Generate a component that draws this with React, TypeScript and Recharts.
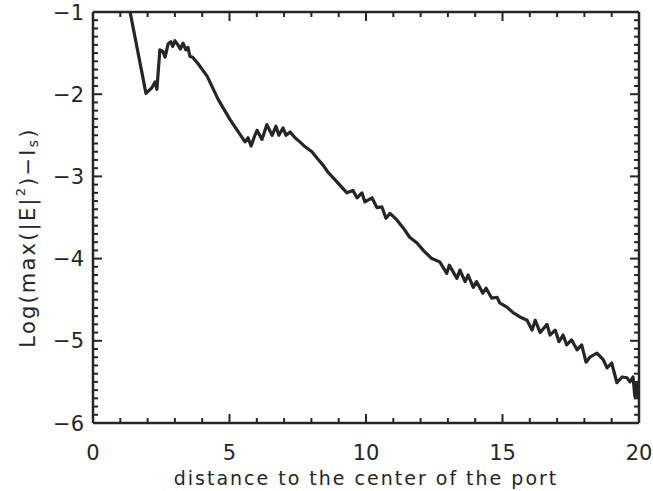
import React from 'react';
import { LineChart, Line, XAxis, YAxis, Label } from 'recharts';

// distance to the port centre (x) and log value (y)
const distance = [
  1.2, 1.94, 2.16, 2.27, 2.34, 2.45, 2.56, 2.64, 2.75, 2.85, 2.92, 3.0, 3.11, 3.2, 3.3, 3.4, 3.48, 3.55, 3.65,
  3.85, 4.18, 4.58, 5.02,
  5.57, 5.68, 5.79, 5.93, 6.01, 6.19, 6.37, 6.56, 6.7, 6.81, 6.96, 7.07, 7.22, 7.4, 7.58, 7.77, 8.02, 8.21,
  8.42, 8.61, 8.86, 9.3, 9.52, 9.67, 9.85, 9.96, 10.22, 10.4,
  10.58, 10.73, 10.88, 11.13, 11.37, 11.6, 11.87, 12.1, 12.41, 12.7, 12.96, 13.05, 13.33, 13.44, 13.63, 13.74,
  13.93, 14.05, 14.28, 14.4, 14.6, 14.8, 14.9, 15.16, 15.4, 15.64, 15.9, 16.08, 16.2, 16.38, 16.63, 16.74,
  16.93, 17.07, 17.22, 17.35, 17.53, 17.73, 17.9, 18.06, 18.2, 18.46, 18.69, 18.83, 19.0, 19.19, 19.38, 19.56,
  19.67, 19.78, 19.85, 19.93, 19.98,
];
const logValue = [
  -0.73, -1.99, -1.92, -1.85, -1.94, -1.46, -1.48, -1.55, -1.39, -1.36, -1.42, -1.35, -1.4, -1.45, -1.38,
  -1.46, -1.43, -1.54, -1.55, -1.63, -1.78, -2.06, -2.31,
  -2.58, -2.53, -2.63, -2.5, -2.44, -2.55, -2.37, -2.5, -2.39, -2.5, -2.41, -2.5, -2.46, -2.53, -2.58, -2.64,
  -2.7, -2.78, -2.86, -2.95, -3.04, -3.2, -3.17, -3.26, -3.2, -3.31, -3.26, -3.38,
  -3.37, -3.51, -3.45, -3.53, -3.63, -3.74, -3.81, -3.9, -4.0, -4.04, -4.18, -4.08, -4.24, -4.14, -4.28, -4.2,
  -4.35, -4.28, -4.42, -4.36, -4.48, -4.47, -4.54, -4.59, -4.66, -4.71, -4.75, -4.87, -4.75, -4.9, -4.8, -4.93,
  -4.87, -5.01, -4.93, -5.05, -4.99, -5.11, -5.05, -5.26, -5.2, -5.15, -5.23, -5.33, -5.27, -5.51, -5.44, -5.45,
  -5.5, -5.44, -5.68, -5.51, -5.7,
];

const xMajor = [0, 5, 10, 15, 20];
const yMajor = [-6, -5, -4, -3, -2, -1];

const data = distance.map((x, i) => ({ x, y: logValue[i] }));

// minor ticks: every 1 on x, every 0.1 on y
const xTicks = Array.from({ length: 21 }, (_, i) => i);
const yTicks = Array.from({ length: 51 }, (_, i) => Math.round((yMajor[0] + i * 0.1) * 10) / 10);

const INK = '#262626';
const FONT = '"DejaVu Sans", sans-serif';

const fmt = (v: number) => (v < 0 ? `\u2212${Math.abs(v)}` : `${v}`);

const BottomTick = ({ x, y, payload }: any) => {
  const major = xMajor.includes(payload.value);
  return (
    <g>
      <line x1={x} x2={x} y1={y} y2={y - (major ? 9 : 5)} stroke={INK} strokeWidth={2} />
      {major && (
        <text x={x} y={y + 37} textAnchor="middle" fontSize={21} fill={INK} fontFamily={FONT}>
          {payload.value}
        </text>
      )}
    </g>
  );
};

const TopTick = ({ x, y, payload }: any) => {
  const major = xMajor.includes(payload.value);
  return <line x1={x} x2={x} y1={y} y2={y + (major ? 9 : 5)} stroke={INK} strokeWidth={2} />;
};

const LeftTick = ({ x, y, payload }: any) => {
  const major = yMajor.includes(payload.value);
  return (
    <g>
      <line x1={x} x2={x + (major ? 9 : 5)} y1={y} y2={y} stroke={INK} strokeWidth={2} />
      {major && (
        <text x={x - 9} y={y} dy="0.36em" textAnchor="end" fontSize={21} fill={INK} fontFamily={FONT}>
          {fmt(payload.value)}
        </text>
      )}
    </g>
  );
};

const RightTick = ({ x, y, payload }: any) => {
  const major = yMajor.includes(payload.value);
  return <line x1={x} x2={x - (major ? 9 : 5)} y1={y} y2={y} stroke={INK} strokeWidth={2} />;
};

const YTitle = ({ viewBox }: any) => {
  const cx = viewBox.x + 28;
  const cy = viewBox.y + viewBox.height / 2 + 20;
  return (
    <text
      x={cx}
      y={cy}
      transform={`rotate(-90, ${cx}, ${cy})`}
      textAnchor="middle"
      dominantBaseline="central"
      fontSize={21}
      fill={INK}
      fontFamily={FONT}
      style={{ letterSpacing: '2.2px' }}
    >
      Log(max(|E|<tspan dy={-8} fontSize={13}>2</tspan>
      <tspan dy={8}>)</tspan>
      {'\u2212I'}
      <tspan dy={5} fontSize={14}>s</tspan>
      <tspan dy={-5}>)</tspan>
    </text>
  );
};

const axisLine = { stroke: INK, strokeWidth: 2.5 };

export default function App() {
  return (
    <div style={{ position: 'absolute', left: 0, top: 0, background: '#fff' }}>
      <LineChart width={653} height={491} data={data} margin={{ top: 0, right: 0, bottom: 0, left: 0 }}>
        <XAxis
          type="number"
          dataKey="x"
          domain={[0, 20]}
          ticks={xTicks}
          interval={0}
          height={68}
          tickSize={0}
          tickMargin={0}
          tickLine={false}
          axisLine={axisLine}
          tick={<BottomTick />}
          allowDataOverflow
        >
          <Label
            value="distance to the center of the port"
            position="insideBottom"
            offset={6}
            fontSize={19}
            fill={INK}
            fontFamily={FONT}
            style={{ letterSpacing: '2px' }}
          />
        </XAxis>
        <XAxis
          xAxisId="top"
          orientation="top"
          type="number"
          dataKey="x"
          domain={[0, 20]}
          ticks={xTicks}
          interval={0}
          height={12}
          tickSize={0}
          tickMargin={0}
          tickLine={false}
          axisLine={axisLine}
          tick={<TopTick />}
          allowDataOverflow
        />
        <YAxis
          type="number"
          domain={[-6, -1]}
          ticks={yTicks}
          interval={0}
          width={93}
          tickSize={0}
          tickMargin={0}
          tickLine={false}
          axisLine={axisLine}
          tick={<LeftTick />}
          allowDataOverflow
        >
          <Label content={<YTitle />} />
        </YAxis>
        <YAxis
          yAxisId="right"
          orientation="right"
          type="number"
          domain={[-6, -1]}
          ticks={yTicks}
          interval={0}
          width={14}
          tickSize={0}
          tickMargin={0}
          tickLine={false}
          axisLine={axisLine}
          tick={<RightTick />}
          allowDataOverflow
        />
        <Line
          type="linear"
          dataKey="y"
          stroke={INK}
          strokeWidth={3.2}
          strokeLinejoin="round"
          dot={false}
          isAnimationActive={false}
        />
      </LineChart>
    </div>
  );
}
